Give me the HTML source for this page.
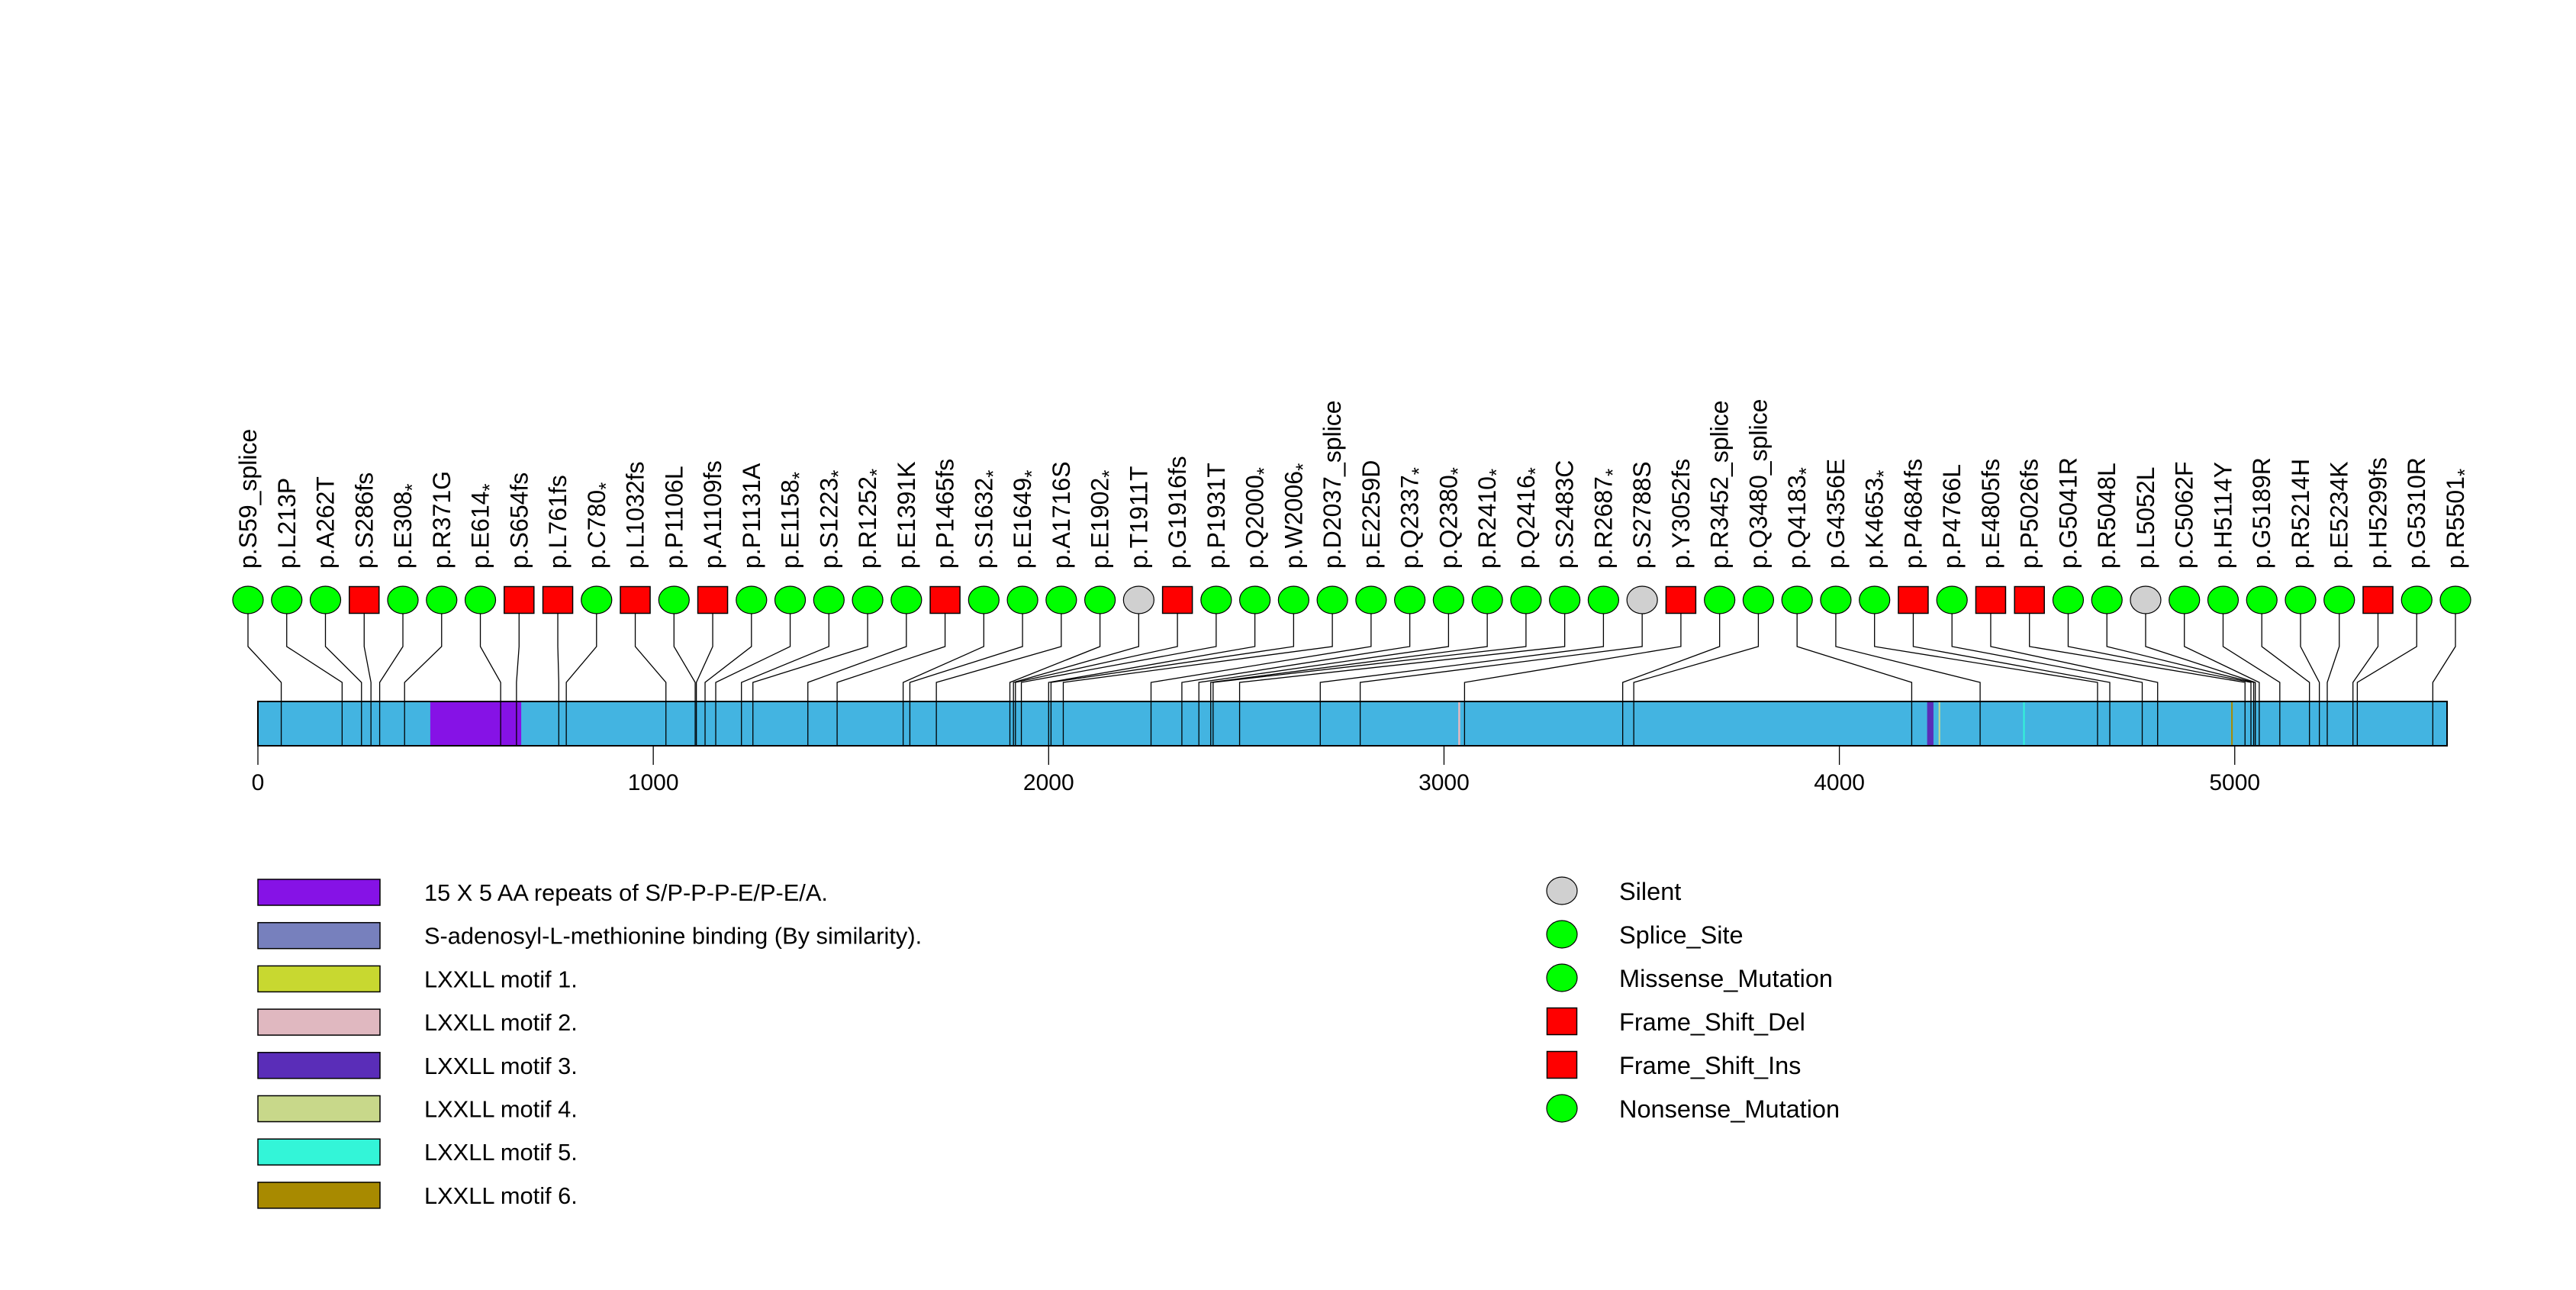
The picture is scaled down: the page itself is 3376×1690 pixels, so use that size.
<!DOCTYPE html>
<html><head><meta charset="utf-8"><style>
html,body{margin:0;padding:0;background:#fff;}
svg{display:block;font-family:"Liberation Sans",Arial,sans-serif;}
</style></head><body>
<svg id="chart" width="3376" height="1690" viewBox="0 0 3376 1690" xmlns="http://www.w3.org/2000/svg">
<rect width="3376" height="1690" fill="#fff"/>
<g id="stems"></g>
<g id="protein"></g>
<g id="markers"></g>
<g id="labels"></g>
<g id="axis"></g>
<g id="legend"></g>
<g id="legend2"></g>
</svg>
<script>
const proteinLength = 5537;
const mutLabels = ["p.S59_splice","p.L213P","p.A262T","p.S286fs","p.E308*","p.R371G","p.E614*","p.S654fs","p.L761fs","p.C780*","p.L1032fs","p.P1106L","p.A1109fs","p.P1131A","p.E1158*","p.S1223*","p.R1252*","p.E1391K","p.P1465fs","p.S1632*","p.E1649*","p.A1716S","p.E1902*","p.T1911T","p.G1916fs","p.P1931T","p.Q2000*","p.W2006*","p.D2037_splice","p.E2259D","p.Q2337*","p.Q2380*","p.R2410*","p.Q2416*","p.S2483C","p.R2687*","p.S2788S","p.Y3052fs","p.R3452_splice","p.Q3480_splice","p.Q4183*","p.G4356E","p.K4653*","p.P4684fs","p.P4766L","p.E4805fs","p.P5026fs","p.G5041R","p.R5048L","p.L5052L","p.C5062F","p.H5114Y","p.G5189R","p.R5214H","p.E5234K","p.H5299fs","p.G5310R","p.R5501*"];
const mutPositions = [59,213,262,286,308,371,614,654,761,780,1032,1106,1109,1131,1158,1223,1252,1391,1465,1632,1649,1716,1902,1911,1916,1931,2000,2006,2037,2259,2337,2380,2410,2416,2483,2687,2788,3052,3452,3480,4183,4356,4653,4684,4766,4805,5026,5041,5048,5052,5062,5114,5189,5214,5234,5299,5310,5501];
const mutTypes = ["splice","mis","mis","fs","non","mis","non","fs","fs","non","fs","mis","fs","mis","non","non","non","mis","fs","non","non","mis","non","silent","fs","mis","non","non","splice","mis","non","non","non","non","mis","non","silent","fs","splice","splice","non","mis","non","fs","mis","fs","fs","mis","mis","silent","mis","mis","mis","mis","mis","fs","mis","non"];
const domainNames = ["15 X 5 AA repeats of S/P-P-P-E/P-E/A.","S-adenosyl-L-methionine binding (By similarity).","LXXLL motif 1.","LXXLL motif 2.","LXXLL motif 3.","LXXLL motif 4.","LXXLL motif 5.","LXXLL motif 6."];
const domainStarts = [436,null,null,3036,4222,4251,4465,4991];
const domainEnds = [666,null,null,3041,4238,4255,4468,4994];
const domainColors = ["#8612e6","#7780bd","#c8d830","#e0b8c0","#5a2db8","#c8d88a","#33f5d8","#a88a00"];
const axisTicks = [0,1000,2000,3000,4000,5000];
const typeLegend = ["Silent","Splice_Site","Missense_Mutation","Frame_Shift_Del","Frame_Shift_Ins","Nonsense_Mutation"];
const typeLegendShape = ["silent","splice","mis","fs","fs","non"];

const NS="http://www.w3.org/2000/svg";
const X0=338, X1=3207, BAR_T=919, BAR_B=977;
function xScale(p){return X0+(X1-X0)*p/proteinLength;}
const M0=325, M1=3218;
function mX(i){return M0+(M1-M0)*i/(mutLabels.length-1);}
function mk(tag,attrs,parent){const e=document.createElementNS(NS,tag);for(const k in attrs)e.setAttribute(k,attrs[k]);parent.appendChild(e);return e;}
const fillFor={silent:"#d0d0d0",splice:"#00ff00",mis:"#00ff00",non:"#00ff00",fs:"#ff0000"};
function shape(type,cx,cy,parent){
  let e;
  if(type==="fs"){e=mk("rect",{x:cx-19.5,y:cy-17.5,width:39,height:35,fill:fillFor[type],stroke:"#000","stroke-width":1.5},parent);}
  else{e=mk("ellipse",{cx:cx,cy:cy,rx:20,ry:18,fill:fillFor[type],stroke:"#000","stroke-width":1.2},parent);}
  return e;
}
const stems=document.getElementById('stems'),prot=document.getElementById('protein'),marks=document.getElementById('markers'),labs=document.getElementById('labels'),axis=document.getElementById('axis'),leg=document.getElementById('legend'),leg2=document.getElementById('legend2');
const MY=786;
mutLabels.forEach((lab,i)=>{
  const mx=mX(i), px=xScale(mutPositions[i]);
  const s=mk("polyline",{points:`${mx},${MY} ${mx},847 ${px},894 ${px},${BAR_T}`,fill:"none",stroke:"#000","stroke-width":1.3},stems);
  
  
});
const bar=mk("rect",{x:X0,y:BAR_T,width:X1-X0,height:BAR_B-BAR_T,fill:"#43b4e1",stroke:"none"},prot);


domainStarts.forEach((s,i)=>{
  if(s===null)return;
  const d=mk("rect",{x:xScale(s),y:BAR_T,width:Math.max(2,xScale(domainEnds[i])-xScale(s)),height:BAR_B-BAR_T,fill:domainColors[i],stroke:"none"},prot);
  
  
});
mutPositions.forEach((p,i)=>{
  const l=mk("line",{x1:xScale(p),x2:xScale(p),y1:BAR_T,y2:BAR_B,stroke:"#000","stroke-width":1.3},prot);
  
  
});
const bo=mk("rect",{x:X0,y:BAR_T,width:X1-X0,height:BAR_B-BAR_T,fill:"none",stroke:"#000","stroke-width":2},prot);


mutLabels.forEach((lab,i)=>{
  const mx=mX(i);
  const m=shape(mutTypes[i],mx,MY,marks);
  
  
  const t=mk("text",{transform:`translate(${mx+11},745) rotate(-90)`,"font-size":32,fill:"#000"},labs);
  
  
  if(lab.endsWith("*")){
    t.textContent=lab.slice(0,-1);
    const ts=mk("tspan",{"font-size":26,dy:10},t);ts.textContent="*";
  } else t.textContent=lab;
});
axisTicks.forEach(v=>{
  const x=xScale(v);
  const tk=mk("line",{x1:x,x2:x,y1:BAR_B,y2:1002,stroke:"#000","stroke-width":1.3},axis);
  
  
  const tl=mk("text",{x:x,y:1035,"text-anchor":"middle","font-size":30},axis);
  
  
  tl.textContent=v;
});
domainNames.forEach((n,i)=>{
  const y=1152+i*56.7;
  const r=mk("rect",{x:338,y:y,width:160,height:34,fill:domainColors[i],stroke:"#000","stroke-width":1.5},leg);
  
  
  const t=mk("text",{x:556,y:y+28,"font-size":30.8},leg);
  
  
  t.textContent=n;
});
typeLegend.forEach((n,i)=>{
  const cy=1167+i*57;
  const s=shape(typeLegendShape[i],2047,cy,leg2);
  
  
  const t=mk("text",{x:2122,y:cy+12,"font-size":32.5},leg2);
  
  
  t.textContent=n;
});
</script>
</body></html>
